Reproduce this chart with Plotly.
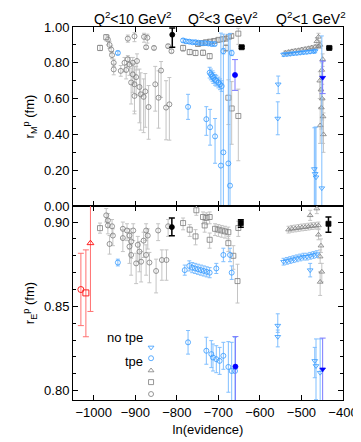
import plotly.graph_objects as go
from plotly.subplots import make_subplots

# ---------------- r_M (top panel) ----------------
# tpe, open circles
m_circ_x = [-966, -962, -958, -956, -952, -952, -918, -902, -879, -871, -874, -855, -821, -813,
            -935, -926, -918, -914, -906, -910, -902, -890, -887, -902, -880, -876, -868, -852,
            -844, -838, -826, -818, -922, -898, -896, -906]
m_circ_y = [0.930, 0.900, 0.874, 0.843, 0.800, 0.763, 0.935, 0.948, 0.945, 0.940, 0.887, 0.883, 0.893, 0.865,
            0.755, 0.800, 0.820, 0.790, 0.735, 0.690, 0.680, 0.665, 0.624, 0.615, 0.610, 0.640, 0.553, 0.680,
            0.605, 0.757, 0.550, 0.568, 0.760, 0.720, 0.810, 0.800]
m_circ_ep = [0.02, 0.02, 0.02, 0.02, 0.02, 0.03, 0.02, 0.02, 0.02, 0.02, 0.01, 0.01, 0.01, 0.01,
             0.03, 0.03, 0.02, 0.04, 0.06, 0.08, 0.10, 0.10, 0.12, 0.10, 0.10, 0.10, 0.12, 0.10,
             0.15, 0.05, 0.15, 0.15, 0.03, 0.06, 0.04, 0.03]
m_circ_em = [0.03, 0.02, 0.02, 0.02, 0.02, 0.03, 0.02, 0.03, 0.03, 0.03, 0.01, 0.01, 0.01, 0.01,
             0.03, 0.05, 0.04, 0.06, 0.10, 0.12, 0.15, 0.20, 0.20, 0.10, 0.20, 0.20, 0.18, 0.15,
             0.17, 0.15, 0.18, 0.20, 0.05, 0.10, 0.05, 0.05]

# tpe, open squares
m_sq_x = [-985, -970, -785, -769, -755, -737, -721, -749, -740, -730, -720, -710, -700, -690,
          -682, -675, -669, -682, -652, -676, -668, -652]
m_sq_y = [0.883, 0.943, 0.883, 0.860, 0.855, 0.856, 0.837, 0.905, 0.910, 0.915, 0.918, 0.922, 0.928, 0.932,
          0.935, 0.945, 0.950, 0.883, 0.963, 0.605, 0.545, 0.503]
m_sq_ep = [0.015, 0.015, 0.015, 0.015, 0.015, 0.015, 0.015, 0.01, 0.01, 0.01, 0.01, 0.01, 0.01, 0.01,
           0.01, 0.01, 0.01, 0.02, 0.03, 0.10, 0.15, 0.15]
m_sq_em = [0.015, 0.02, 0.02, 0.015, 0.015, 0.015, 0.015, 0.01, 0.01, 0.01, 0.01, 0.01, 0.01, 0.01,
           0.01, 0.01, 0.01, 0.02, 0.06, 0.15, 0.20, 0.25]

# tpe, open triangles
m_tri_x = [-539, -531, -523, -515, -507, -499, -491, -483, -475, -467, -459, -463, -459, -455,
           -451, -449, -456, -453, -450, -452, -448, -455, -447]
m_tri_y = [0.856, 0.860, 0.864, 0.867, 0.870, 0.874, 0.877, 0.881, 0.885, 0.889, 0.893, 0.920, 0.945, 0.900,
           0.760, 0.820, 0.700, 0.650, 0.600, 0.550, 0.500, 0.450, 0.400]
m_tri_ep = [0.01, 0.01, 0.01, 0.01, 0.01, 0.01, 0.01, 0.01, 0.01, 0.01, 0.01, 0.02, 0.02, 0.02,
            0.04, 0.03, 0.05, 0.08, 0.08, 0.10, 0.10, 0.10, 0.12]
m_tri_em = [0.01, 0.01, 0.01, 0.01, 0.01, 0.01, 0.01, 0.01, 0.01, 0.01, 0.01, 0.02, 0.02, 0.02,
            0.04, 0.04, 0.10, 0.10, 0.12, 0.12, 0.15, 0.10, 0.10]

# no tpe, open circles
m_nc_x = [-942, -785, -778, -770, -762, -755, -748, -740, -732, -724, -716, -709, -688, -668,
          -721, -718, -714, -712, -708, -705, -700, -696, -692,
          -773, -729, -720, -708, -694, -688, -676, -672]
m_nc_y = [0.855, 0.925, 0.920, 0.918, 0.915, 0.915, 0.912, 0.910, 0.910, 0.908, 0.905, 0.905, 0.865, 0.855,
          0.745, 0.735, 0.725, 0.715, 0.705, 0.700, 0.690, 0.680, 0.670,
          0.554, 0.485, 0.440, 0.389, 0.226, 0.300, 0.238, 0.114]
m_nc_ep = [0.01, 0.01, 0.01, 0.01, 0.01, 0.01, 0.01, 0.01, 0.01, 0.01, 0.01, 0.01, 0.015, 0.015,
           0.03, 0.03, 0.03, 0.03, 0.03, 0.03, 0.03, 0.03, 0.03,
           0.07, 0.07, 0.10, 0.10, 0.74, 0.66, 0.72, 0.85]
m_nc_em = [0.01, 0.01, 0.01, 0.01, 0.01, 0.01, 0.01, 0.01, 0.01, 0.01, 0.01, 0.01, 0.015, 0.015,
           0.03, 0.03, 0.03, 0.03, 0.03, 0.03, 0.03, 0.03, 0.03,
           0.07, 0.09, 0.10, 0.15, 0.60, 0.60, 0.60, 0.60]

# no tpe, open triangles (down)
m_nt_x = [-543, -535, -527, -519, -511, -503, -495, -487, -479, -471, -467,
          -556, -557, -469, -467, -465, -451]
m_nt_y = [0.846, 0.848, 0.850, 0.852, 0.854, 0.856, 0.858, 0.860, 0.862, 0.864, 0.866,
          0.680, 0.489, 0.207, 0.180, 0.161, 0.100]
m_nt_ep = [0.01, 0.01, 0.01, 0.01, 0.01, 0.01, 0.01, 0.01, 0.01, 0.01, 0.01,
           0.046, 0.093, 0.23, 0.26, 0.28, 0.85]
m_nt_em = [0.01, 0.01, 0.01, 0.01, 0.01, 0.01, 0.01, 0.01, 0.01, 0.01, 0.01,
           0.052, 0.091, 0.60, 0.60, 0.60, 0.60]

# best fits (black) and highlighted no-tpe (dark blue)
m_best_x = [-811, -644, -433]
m_best_y = [0.957, 0.887, 0.883]
m_best_ep = [0.037, 0.005, 0.005]
m_best_em = [0.070, 0.005, 0.005]
m_blue_x = [-660, -449]
m_blue_y = [0.732, 0.717]
m_blue_ep = [0.086, 0.092]
m_blue_em = [0.086, 0.089]

# ---------------- r_E (bottom panel) ----------------
e_circ_x = [-970, -966, -966, -956, -954, -962, -930, -920, -930, -914, -910, -914, -910, -894,
            -890, -886, -898, -874, -870, -874, -866, -850, -836, -825, -821, -845, -905, -880]
e_circ_y = [0.9040, 0.9010, 0.8980, 0.8975, 0.8920, 0.8870, 0.8960, 0.8950, 0.8905, 0.8920, 0.8885, 0.8855,
            0.8805, 0.8865, 0.8825, 0.8765, 0.8755, 0.8950, 0.8920, 0.8805, 0.8760, 0.8710, 0.8775, 0.8775,
            0.8975, 0.8950, 0.8950, 0.8890]
e_circ_ep = [0.004, 0.004, 0.004, 0.004, 0.004, 0.005, 0.004, 0.004, 0.005, 0.004, 0.005, 0.005,
             0.006, 0.005, 0.006, 0.006, 0.006, 0.004, 0.004, 0.006, 0.006, 0.007, 0.006, 0.006,
             0.004, 0.004, 0.004, 0.005]
e_circ_em = [0.004, 0.004, 0.005, 0.005, 0.006, 0.006, 0.006, 0.006, 0.008, 0.008, 0.010, 0.010,
             0.012, 0.010, 0.012, 0.012, 0.012, 0.006, 0.008, 0.012, 0.012, 0.013, 0.012, 0.012,
             0.006, 0.006, 0.006, 0.010]

e_sq_x = [-985, -785, -769, -755, -753, -737, -729, -721, -733, -708, -700, -692, -684, -676,
          -721, -676, -652, -664, -654]
e_sq_y = [0.8964, 0.8994, 0.8955, 0.8915, 0.9070, 0.9030, 0.9025, 0.9030, 0.8980, 0.8960, 0.8955, 0.8950,
          0.8945, 0.8940, 0.8895, 0.8875, 0.8965, 0.8800, 0.8650]
e_sq_ep = [0.003, 0.003, 0.003, 0.004, 0.003, 0.003, 0.003, 0.003, 0.003, 0.003, 0.003, 0.003,
           0.003, 0.003, 0.004, 0.004, 0.004, 0.006, 0.010]
e_sq_em = [0.003, 0.004, 0.004, 0.005, 0.003, 0.004, 0.004, 0.004, 0.004, 0.004, 0.004, 0.004,
           0.004, 0.004, 0.005, 0.005, 0.005, 0.008, 0.013]

e_tri_x = [-531, -523, -515, -507, -499, -491, -483, -475, -467, -459,
           -479, -463, -459, -453, -455, -451, -455]
e_tri_y = [0.8955, 0.8960, 0.8962, 0.8965, 0.8968, 0.8970, 0.8973, 0.8976, 0.8978, 0.8980,
           0.9040, 0.9080, 0.8925, 0.8860, 0.8795, 0.8705, 0.8645]
e_tri_ep = [0.002, 0.002, 0.002, 0.002, 0.002, 0.002, 0.002, 0.002, 0.002, 0.002,
            0.003, 0.003, 0.003, 0.004, 0.004, 0.005, 0.006]
e_tri_em = [0.002, 0.002, 0.002, 0.002, 0.002, 0.002, 0.002, 0.002, 0.002, 0.002,
            0.003, 0.003, 0.003, 0.004, 0.004, 0.006, 0.008]

e_nc_x = [-942, -781, -770, -763, -756, -749, -742, -735, -728, -721, -705, -688, -668, -672,
          -773, -729, -717, -713, -705, -697, -688, -676, -668, -660]
e_nc_y = [0.8760, 0.8715, 0.8740, 0.8730, 0.8725, 0.8720, 0.8715, 0.8710, 0.8705, 0.8700, 0.8725, 0.8805,
          0.8700, 0.8805, 0.8287, 0.8237, 0.8217, 0.8197, 0.8187, 0.8177, 0.8207, 0.8141, 0.8117, 0.8117]
e_nc_ep = [0.002, 0.003, 0.003, 0.003, 0.003, 0.003, 0.003, 0.003, 0.003, 0.003, 0.003, 0.004,
           0.004, 0.004, 0.007, 0.008, 0.008, 0.008, 0.008, 0.008, 0.008, 0.015, 0.017, 0.020]
e_nc_em = [0.002, 0.003, 0.003, 0.003, 0.003, 0.003, 0.003, 0.003, 0.003, 0.003, 0.003, 0.004,
           0.004, 0.004, 0.007, 0.008, 0.008, 0.008, 0.008, 0.008, 0.008, 0.015, 0.020, 0.020]

e_nt_x = [-543, -535, -527, -519, -511, -503, -495, -487, -479, -471, -463,
          -479, -557, -557, -468, -465, -455]
e_nt_y = [0.8765, 0.8770, 0.8775, 0.8780, 0.8785, 0.8790, 0.8795, 0.8795, 0.8800, 0.8805, 0.8810,
          0.8715, 0.8386, 0.8320, 0.8177, 0.8147, 0.8107]
e_nt_ep = [0.002, 0.002, 0.002, 0.002, 0.002, 0.002, 0.002, 0.002, 0.002, 0.002, 0.002,
           0.004, 0.007, 0.004, 0.008, 0.016, 0.020]
e_nt_em = [0.002, 0.002, 0.002, 0.002, 0.002, 0.002, 0.002, 0.002, 0.002, 0.002, 0.002,
           0.004, 0.004, 0.006, 0.010, 0.020, 0.020]

e_best_x = [-812, -646, -435]
e_best_y = [0.8970, 0.8994, 0.8990]
e_best_ep = [0.0054, 0.0020, 0.0040]
e_best_em = [0.0051, 0.0025, 0.0050]
e_blue_x = [-659, -449]
e_blue_y = [0.8143, 0.8127]
e_blue_ep = [0.0178, 0.0185]
e_blue_em = [0.030, 0.030]

# earlier measurements (red), bottom panel only
e_red_x = [-1031, -1019, -1008]
e_red_y = [0.8600, 0.8580, 0.8875]
e_red_ep = [0.0215, 0.0255, 0.0300]
e_red_em = [0.0214, 0.0260, 0.0405]

GRAY = "#7c7c7c"
GRAY_ERR = "#c4c4c4"
BLUE = "#3399ff"
BLUE_ERR = "#80bfff"
FONT = "Liberation Sans, Arial, sans-serif"

fig = make_subplots(rows=2, cols=1, shared_xaxes=True, vertical_spacing=0,
                    row_heights=[0.48, 0.52])


def add_points(row, x, y, ep, em, symbol, color, ecolor, size=5,
               legend=None, group=None, thick=1, cap=2, lw=0.8):
    fig.add_trace(go.Scatter(
        x=x, y=y, mode="markers", name="",
        marker=dict(symbol=symbol, size=size, color=color,
                    line=dict(color=color, width=lw)),
        error_y=dict(type="data", symmetric=False, array=ep, arrayminus=em,
                     color=ecolor, thickness=thick, width=cap),
        legendgroup=group, showlegend=legend is not None,
        legend=legend if legend else "legend",
    ), row=row, col=1)


# gray (tpe) points first, then blue (no tpe) on top
add_points(1, m_circ_x, m_circ_y, m_circ_ep, m_circ_em, "circle-open", GRAY, GRAY_ERR, legend="legend5", group="c")
add_points(1, m_sq_x, m_sq_y, m_sq_ep, m_sq_em, "square-open", GRAY, GRAY_ERR, legend="legend4", group="s")
add_points(1, m_tri_x, m_tri_y, m_tri_ep, m_tri_em, "triangle-up-open", GRAY, GRAY_ERR, legend="legend3", group="t")
add_points(1, m_nc_x, m_nc_y, m_nc_ep, m_nc_em, "circle-open", BLUE, BLUE_ERR, legend="legend2", group="nc")
add_points(1, m_nt_x, m_nt_y, m_nt_ep, m_nt_em, "triangle-down-open", BLUE, BLUE_ERR, legend="legend", group="nt")

add_points(2, e_circ_x, e_circ_y, e_circ_ep, e_circ_em, "circle-open", GRAY, GRAY_ERR, group="c")
add_points(2, e_sq_x, e_sq_y, e_sq_ep, e_sq_em, "square-open", GRAY, GRAY_ERR, group="s")
add_points(2, e_tri_x, e_tri_y, e_tri_ep, e_tri_em, "triangle-up-open", GRAY, GRAY_ERR, group="t")
add_points(2, e_nc_x, e_nc_y, e_nc_ep, e_nc_em, "circle-open", BLUE, BLUE_ERR, group="nc")
add_points(2, e_nt_x, e_nt_y, e_nt_ep, e_nt_em, "triangle-down-open", BLUE, BLUE_ERR, group="nt")

# highlighted results
for row, bx, by, bep, bem in [(1, m_blue_x, m_blue_y, m_blue_ep, m_blue_em),
                              (2, e_blue_x, e_blue_y, e_blue_ep, e_blue_em)]:
    add_points(row, bx, by, bep, bem, ["circle", "triangle-down"], "#0000ff", "#7a7aff", size=5, cap=3)
for row, bx, by, bep, bem in [(1, m_best_x, m_best_y, m_best_ep, m_best_em),
                              (2, e_best_x, e_best_y, e_best_ep, e_best_em)]:
    add_points(row, bx, by, bep, bem, ["circle", "square", "square"], "black", "black", size=5, thick=1.5, cap=3)
add_points(2, e_red_x, e_red_y, e_red_ep, e_red_em, ["circle-open", "square-open", "triangle-up-open"],
           "#ff2020", "#ff7070", size=6, cap=3, lw=1)

# axes, gnuplot style: inside ticks on all four sides
axis_common = dict(showline=True, linecolor="black", linewidth=1, mirror="allticks",
                   ticks="inside", ticklen=5, tickcolor="black", showgrid=False, zeroline=False,
                   tickfont=dict(family=FONT, size=13, color="black"))
fig.update_xaxes(range=[-1050, -400], dtick=100, **axis_common)
fig.update_xaxes(showticklabels=False, row=1, col=1)
fig.update_xaxes(title=dict(text="ln(evidence)", font=dict(family=FONT, size=13, color="black"), standoff=6),
                 row=2, col=1)
fig.update_yaxes(range=[0, 1.0], dtick=0.2, tickformat=".2f",
                 minor=dict(ticks="inside", dtick=0.1, ticklen=3, tickcolor="black"),
                 title=dict(text="r<sub>M</sub><sup>p</sup> (fm)", font=dict(family=FONT, size=13, color="black"),
                            standoff=6),
                 row=1, col=1, **axis_common)
fig.update_yaxes(range=[0.7945, 0.9095], tickvals=[0.80, 0.85, 0.90], tickformat=".2f",
                 minor=dict(ticks="inside", dtick=0.01, ticklen=3, tickcolor="black"),
                 title=dict(text="r<sub>E</sub><sup>p</sup> (fm)", font=dict(family=FONT, size=13, color="black"),
                            standoff=6),
                 row=2, col=1, **axis_common)

# Q^2 labels above the top panel
q_labels = ["Q<sup>2</sup><10 GeV<sup>2</sup>", "Q<sup>2</sup><3 GeV<sup>2</sup>", "Q<sup>2</sup><1 GeV<sup>2</sup>"]
q_pos = [-906, -688, -478]
for txt, xp in zip(q_labels, q_pos):
    fig.add_annotation(text=txt, x=xp, xref="x", y=1, yref="paper", yanchor="bottom",
                       showarrow=False, yshift=-2, font=dict(family=FONT, size=14, color="black"))

# legend: one small legend per row so the spacing stays tight
legend_rows = {"legend": 0.141, "legend2": 0.112, "legend3": 0.079, "legend4": 0.048, "legend5": 0.016}
legend_layout = {}
for key, yp in legend_rows.items():
    legend_layout[key] = dict(x=0.215, y=yp, xanchor="left", yanchor="middle",
                              bgcolor="rgba(0,0,0,0)", borderwidth=0,
                              font=dict(family=FONT, size=10), itemwidth=30)
fig.update_layout(**legend_layout)
fig.add_annotation(text="no tpe", x=0.267, y=0.141, xref="paper", yref="paper", xanchor="right",
                   showarrow=False, font=dict(family=FONT, size=13, color="black"))
fig.add_annotation(text="tpe", x=0.267, y=0.079, xref="paper", yref="paper", xanchor="right",
                   showarrow=False, font=dict(family=FONT, size=13, color="black"))

fig.update_layout(width=361, height=442, margin=dict(l=65, r=26, t=19, b=50),
                  plot_bgcolor="white", paper_bgcolor="white",
                  font=dict(family=FONT, size=13, color="black"))

fig.write_html("out.html")
